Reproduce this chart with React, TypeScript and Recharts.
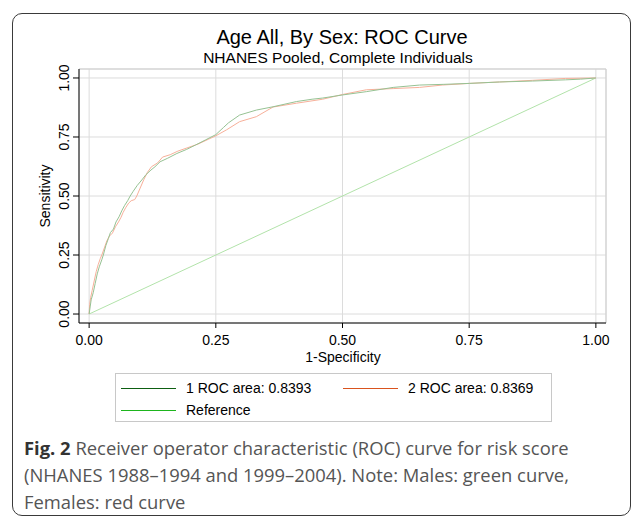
import React from 'react';
import { LineChart, Line, XAxis, YAxis, CartesianGrid, ReferenceLine } from 'recharts';

const TITLE = 'Age All, By Sex: ROC Curve';
const SUBTITLE = 'NHANES Pooled, Complete Individuals';
const X_LABEL = '1-Specificity';
const Y_LABEL = 'Sensitivity';
const TICKS = [0, 0.25, 0.5, 0.75, 1];
const X_DOMAIN = [-0.02, 1.02];
const Y_DOMAIN = [-0.038, 1.038];

// Series 1 (males, green)
const MALE_FPR = [0, 0.002, 0.004, 0.008, 0.012, 0.016, 0.02, 0.025, 0.028, 0.033, 0.038, 0.042, 0.048, 0.053, 0.059, 0.065, 0.07, 0.076, 0.081, 0.087, 0.095, 0.104, 0.112, 0.122, 0.13, 0.14, 0.155, 0.173, 0.192, 0.21, 0.23, 0.25, 0.265, 0.275, 0.297, 0.33, 0.363, 0.409, 0.44, 0.461, 0.5, 0.547, 0.6, 0.652, 0.7, 0.75, 0.81, 0.875, 0.94, 0.97, 1];
const MALE_TPR = [0, 0.03, 0.06, 0.09, 0.13, 0.17, 0.2, 0.23, 0.25, 0.29, 0.32, 0.345, 0.36, 0.39, 0.412, 0.44, 0.46, 0.48, 0.5, 0.52, 0.545, 0.568, 0.59, 0.61, 0.624, 0.645, 0.66, 0.68, 0.697, 0.716, 0.738, 0.76, 0.79, 0.81, 0.843, 0.864, 0.878, 0.9, 0.91, 0.915, 0.928, 0.942, 0.96, 0.97, 0.973, 0.977, 0.983, 0.987, 0.992, 0.995, 1];

// Series 2 (females, red)
const FEMALE_FPR = [0, 0.001, 0.003, 0.006, 0.01, 0.014, 0.018, 0.022, 0.025, 0.03, 0.035, 0.04, 0.046, 0.052, 0.058, 0.063, 0.067, 0.072, 0.078, 0.083, 0.09, 0.094, 0.1, 0.108, 0.115, 0.123, 0.135, 0.145, 0.16, 0.175, 0.195, 0.215, 0.235, 0.25, 0.271, 0.297, 0.33, 0.363, 0.409, 0.461, 0.5, 0.547, 0.6, 0.652, 0.697, 0.75, 0.81, 0.875, 0.94, 1];
const FEMALE_TPR = [0, 0.04, 0.07, 0.1, 0.14, 0.18, 0.21, 0.235, 0.25, 0.28, 0.31, 0.33, 0.343, 0.37, 0.39, 0.41, 0.43, 0.45, 0.47, 0.48, 0.485, 0.5, 0.53, 0.57, 0.6, 0.624, 0.64, 0.665, 0.675, 0.69, 0.705, 0.72, 0.74, 0.755, 0.78, 0.815, 0.836, 0.877, 0.893, 0.91, 0.93, 0.95, 0.955, 0.96, 0.97, 0.977, 0.983, 0.99, 0.998, 1];

const REF_X = [0, 1];
const REF_Y = [0, 1];

const LEGEND_NAMES = ['1 ROC area: 0.8393', '2 ROC area: 0.8369', 'Reference'];
const LEGEND_COLORS = ['#0d5e12', '#d9531e', '#1db51d'];
const PLOT_COLORS = ['#96c293', '#f7b09a', '#b2e3aa'];

const CAPTION_BOLD = 'Fig. 2';
const CAPTION_LINES = [
  ' Receiver operator characteristic (ROC) curve for risk score',
  '(NHANES 1988–1994 and 1999–2004). Note: Males: green curve,',
  'Females: red curve',
];

const zip = (xs: number[], ys: number[]) => xs.map((x, i) => ({ x, y: ys[i] }));
const maleData = zip(MALE_FPR, MALE_TPR);
const femaleData = zip(FEMALE_FPR, FEMALE_TPR);
const refData = zip(REF_X, REF_Y);

const FONT = '"Liberation Sans", Arial, sans-serif';
const fmt = (v: number) => v.toFixed(2);

const YTick = (props: any) => {
  const { x, y, payload } = props;
  return (
    <text x={x} y={y} transform={`rotate(-90 ${x} ${y})`} textAnchor="middle" fontSize={14} fontFamily={FONT} fill="#000">
      {fmt(payload.value)}
    </text>
  );
};

export default function App() {
  return (
    <div style={{ position: 'absolute', left: 0, top: 0, width: 634, height: 520, background: '#fff', overflow: 'hidden' }}>
      <div style={{ position: 'absolute', left: 12, top: 13, width: 619, height: 503, border: '1.5px solid #3a3a3a', borderRadius: 10, boxSizing: 'border-box' }} />
      <div style={{ position: 'absolute', left: 0, width: 684, top: 25, textAlign: 'center', fontFamily: FONT, fontSize: 20, lineHeight: '24px', color: '#000' }}>{TITLE}</div>
      <div style={{ position: 'absolute', left: 0, width: 676, top: 49, textAlign: 'center', fontFamily: FONT, fontSize: 15.5, lineHeight: '18px', color: '#000' }}>{SUBTITLE}</div>
      <div style={{ position: 'absolute', left: 0, top: 0 }}>
        <LineChart width={634} height={370} margin={{ top: 69, right: 28, left: 39, bottom: 17 }}>
          <CartesianGrid stroke="#dcdcdc" strokeWidth={1} />
          <XAxis
            dataKey="x"
            type="number"
            domain={X_DOMAIN}
            ticks={TICKS}
            allowDataOverflow
            tickFormatter={fmt}
            height={30}
            tickSize={5}
            tickMargin={7}
            axisLine={{ stroke: '#000' }}
            tickLine={{ stroke: '#000' }}
            tick={{ fill: '#000', fontSize: 14, fontFamily: FONT }}
          />
          <YAxis
            dataKey="y"
            type="number"
            domain={Y_DOMAIN}
            ticks={TICKS}
            allowDataOverflow
            width={40}
            tickSize={6}
            tickMargin={4}
            axisLine={{ stroke: '#000' }}
            tickLine={{ stroke: '#000' }}
            tick={<YTick />}
          />
          <ReferenceLine y={Y_DOMAIN[1]} stroke="#cfcfcf" />
          <ReferenceLine x={X_DOMAIN[1]} stroke="#cfcfcf" />
          <Line data={refData} dataKey="y" type="linear" stroke={PLOT_COLORS[2]} strokeWidth={1} dot={false} isAnimationActive={false} />
          <Line data={femaleData} dataKey="y" type="linear" stroke={PLOT_COLORS[1]} strokeWidth={1} dot={false} isAnimationActive={false} />
          <Line data={maleData} dataKey="y" type="linear" stroke={PLOT_COLORS[0]} strokeWidth={1} dot={false} isAnimationActive={false} />
        </LineChart>
      </div>
      <div style={{ position: 'absolute', left: 45, top: 196, transform: 'translate(-50%, -50%) rotate(-90deg)', fontFamily: FONT, fontSize: 14, lineHeight: '16px', whiteSpace: 'nowrap', color: '#000' }}>{Y_LABEL}</div>
      <div style={{ position: 'absolute', left: 343, top: 357, transform: 'translate(-50%, -50%)', fontFamily: FONT, fontSize: 14, lineHeight: '15px', whiteSpace: 'nowrap', color: '#000' }}>{X_LABEL}</div>
      <div style={{ position: 'absolute', left: 115, top: 373, width: 437, height: 49, border: '1px solid #c8c8c8', boxSizing: 'border-box', fontFamily: FONT, fontSize: 14, color: '#000' }}>
        {LEGEND_NAMES.map((name, i) => {
          const col = i === 1 ? 1 : 0;
          const row = i === 2 ? 1 : 0;
          const lx = col === 0 ? 5 : 227;
          const ty = row === 0 ? 6 : 28;
          return (
            <React.Fragment key={name}>
              <div style={{ position: 'absolute', left: lx, top: ty + 8, width: 55, height: 0, borderTop: `1px solid ${LEGEND_COLORS[i]}` }} />
              <div style={{ position: 'absolute', left: lx + 65, top: ty, lineHeight: '17px', whiteSpace: 'nowrap' }}>{name}</div>
            </React.Fragment>
          );
        })}
      </div>
      <div style={{ position: 'absolute', left: 24, top: 434, width: 600, fontFamily: '"Open Sans", Lato, sans-serif', fontSize: 18.4, lineHeight: '27px', color: '#555', whiteSpace: 'nowrap' }}>
        {CAPTION_LINES.map((line, i) => (
          <div key={i}>
            {i === 0 ? <b style={{ color: '#333' }}>{CAPTION_BOLD}</b> : null}
            {line}
          </div>
        ))}
      </div>
    </div>
  );
}
